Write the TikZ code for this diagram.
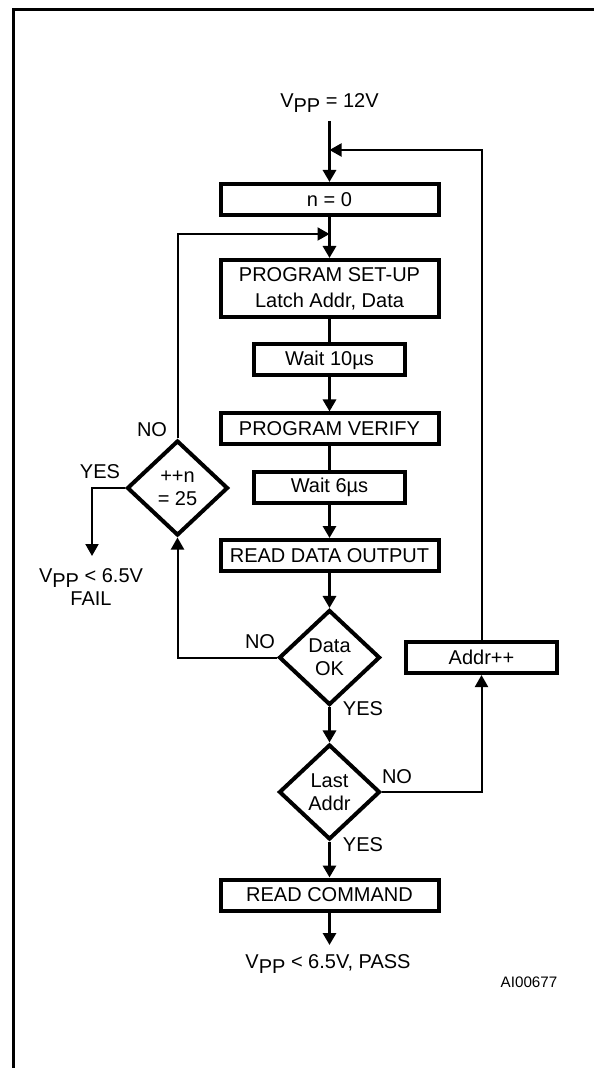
\documentclass[tikz,border=0pt]{standalone}
\usepackage{fontspec}
\setmainfont{Liberation Sans}
\usetikzlibrary{shapes.geometric, arrows.meta, positioning}
\newcommand{\vpp}{V\raisebox{-0.27em}{PP}}

\begin{document}
\begin{tikzpicture}[
      x=0.5pt, y=-0.5pt,
      font=\fontsize{10}{11.5}\selectfont,
      stepbox/.style={
        rectangle,
        draw=black,
        line width=2pt,
        minimum width=109pt,
        minimum height=15.5pt,
        inner sep=0pt,
        align=center
      },
      waitbox/.style={
        stepbox,
        minimum width=75.5pt
      },
      decision/.style={
        diamond,
        draw=black,
        line width=2pt,
        minimum width=50.5pt,
        minimum height=47.5pt,
        inner sep=0pt,
        align=center
      },
      answer/.style={
        inner sep=0pt
      },
      flow/.style={
        line width=1.5pt
      },
      arrow/.style={
        flow,
        -{Triangle[length=6pt, width=6.5pt]}
      },
      looparrow/.style={
        line width=1pt,
        -{Triangle[length=6pt, width=6.5pt]}
      }
    ]

    % Frame
    \useasboundingbox (0,0) rectangle (594,1068);
    \draw [line width=1.5pt] (13,1068) -- (13,10) -- (594,10);

    % Main column
    \node (vpp) at (329.5,103) {\vpp{} = 12V};
    \node (n0) [stepbox] at (329.5,199.5) {n = 0};
    \node (setup) [stepbox, minimum height=28.5pt] at (329.5,288.5) {PROGRAM SET-UP\\[1.5pt]Latch Addr, Data};
    \node (wait10) [waitbox] at (329.5,360) {Wait 10µs};
    \node (verify) [stepbox] at (329.5,429) {PROGRAM VERIFY};
    \node (wait6) [waitbox] at (329.5,487) {Wait 6µs};
    \node (readout) [stepbox] at (329.5,555.5) {READ DATA OUTPUT};
    \node (dataok) [decision] at (329.5,657.5) {Data\\OK};
    \node (lastaddr) [decision] at (329.5,792) {Last\\Addr};
    \node (readcmd) [stepbox] at (329.5,895) {READ COMMAND};
    \node (pass) at (328,964) {\vpp{} < 6.5V, PASS};

    % Side nodes
    \node (addrinc) [waitbox] at (481.5,657.5) {Addr++};
    \node (count) [decision] at (177.5,488) {++n\\= 25};
    \node (fail) [align=center] at (91,587) {\vpp{} < 6.5V\\FAIL};
    \node (figid) [font=\fontsize{7.6}{9}\selectfont] at (529,982) {AI00677};

    % Answers
    \node (countNo) [answer] at (152,430) {NO};
    \node (countYes) [answer] at (100,472) {YES};
    \node (dataNo) [answer] at (260,642) {NO};
    \node (dataYes) [answer] at (363,709) {YES};
    \node (lastNo) [answer] at (397,777) {NO};
    \node (lastYes) [answer] at (363,845) {YES};

    % Free ends
    \coordinate (vtop) at (329.5,121);
    \coordinate (joinTop) at (329.5,150);
    \coordinate (joinSetup) at (329.5,234);
    \coordinate (failEnd) at (92,556);
    \coordinate (passEnd) at (329.5,945);

    % Arrows for main column
    \draw [arrow] (vtop) -- (n0);
    \draw [arrow] (n0) -- (setup);
    \draw [flow] (setup) -- (wait10);
    \draw [arrow] (wait10) -- (verify);
    \draw [flow] (verify) -- (wait6);
    \draw [arrow] (wait6) -- (readout);
    \draw [arrow] (readout) -- (dataok);
    \draw [arrow] (dataok) -- (lastaddr);
    \draw [arrow] (lastaddr) -- (readcmd);
    \draw [arrow] (readcmd) -- (passEnd);

    % Loops
    \draw [looparrow] (lastaddr.east) -| (addrinc.south);
    \draw [looparrow] (addrinc.north) |- (joinTop);
    \draw [looparrow] (dataok.west) -| (count.south);
    \draw [looparrow] (count.north) |- (joinSetup);
    \draw [looparrow] (count.west) -| (failEnd);

    \end{tikzpicture}
\end{document}
